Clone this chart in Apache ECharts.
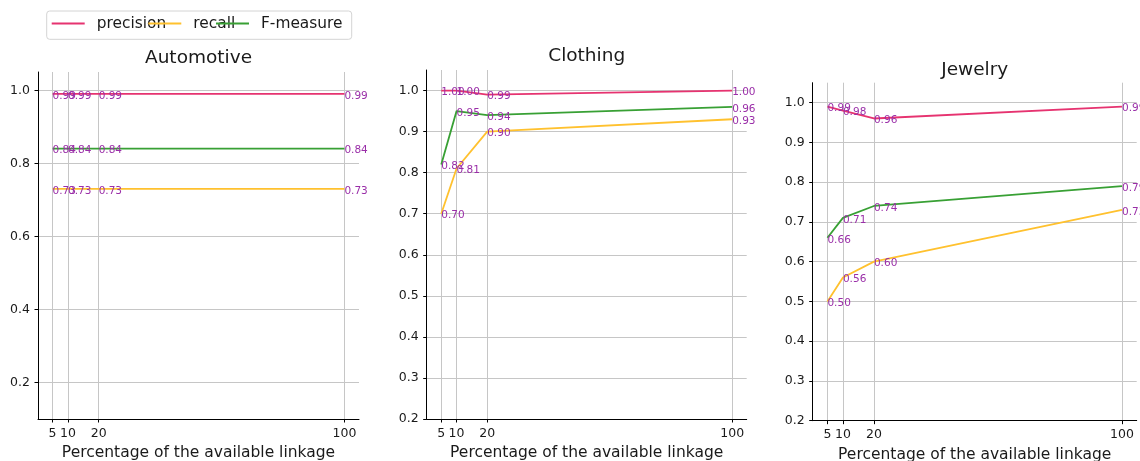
<!DOCTYPE html>
<html>
<head>
<meta charset="utf-8">
<script src="https://cdn.jsdelivr.net/npm/echarts@6/dist/echarts.min.js"></script>
<style>
  html, body { margin: 0; padding: 0; background: #ffffff; }
  #chart { width: 1140px; height: 461px; }
</style>
</head>
<body>
<div id="chart"></div>
<script>
// Share of the available linkage used (x axis)
const linkage = [5, 10, 20, 100];

const panelTitles = ['Automotive', 'Clothing', 'Jewelry'];
const metricNames = ['precision', 'recall', 'F-measure'];

// Scores per category
const automotivePrecision = [0.99, 0.99, 0.99, 0.99];
const automotiveRecall    = [0.73, 0.73, 0.73, 0.73];
const automotiveF         = [0.84, 0.84, 0.84, 0.84];

const clothingPrecision = [1.00, 1.00, 0.99, 1.00];
const clothingRecall    = [0.70, 0.81, 0.90, 0.93];
const clothingF         = [0.82, 0.95, 0.94, 0.96];

const jewelryPrecision = [0.99, 0.98, 0.96, 0.99];
const jewelryRecall    = [0.50, 0.56, 0.60, 0.73];
const jewelryF         = [0.66, 0.71, 0.74, 0.79];

// Y tick labels
const yTicksCoarse = [0.2, 0.4, 0.6, 0.8, 1.0];
const yTicksFine   = [0.2, 0.3, 0.4, 0.5, 0.6, 0.7, 0.8, 0.9, 1.0];

const FONT = 'DejaVu Sans';
const TEXT = '#1a1a1a';
const LABEL_COLOR = '#9a2ea8';
const GRID_COLOR = '#c6c6c6';
const metricColors = ['#e63370', '#ffc12e', '#38a034'];

// Panel geometry (pixels) and y ranges
const panels = [
  { title: panelTitles[0], left: 38,    top: 72,   width: 321, height: 347, yMin: 0.1, yMax: 1.05, yTicks: yTicksCoarse,
    titleY: 58, nameGap: 25.5, values: [automotivePrecision, automotiveRecall, automotiveF] },
  { title: panelTitles[1], left: 426.7, top: 70,   width: 320, height: 349, yMin: 0.2, yMax: 1.05, yTicks: yTicksFine,
    titleY: 55.7, nameGap: 25.5, values: [clothingPrecision, clothingRecall, clothingF] },
  { title: panelTitles[2], left: 812.7, top: 82.7, width: 324, height: 338, yMin: 0.2, yMax: 1.05, yTicks: yTicksFine,
    titleY: 70.3, nameGap: 23.8, values: [jewelryPrecision, jewelryRecall, jewelryF] }
];

const grid = [], xAxis = [], yAxis = [], series = [], graphic = [];

panels.forEach((p, k) => {
  grid.push({ left: p.left, top: p.top, width: p.width, height: p.height,
              containLabel: false, outerBoundsMode: 'none' });

  xAxis.push({
    type: 'value', gridIndex: k, min: 0.25, max: 104.75,
    name: 'Percentage of the available linkage',
    nameLocation: 'middle', nameGap: p.nameGap,
    nameTextStyle: { fontFamily: FONT, fontSize: 15.5, color: TEXT },
    axisLine: { show: true, onZero: false, lineStyle: { color: '#000', width: 1 } },
    axisTick: { show: true, length: 3.5, customValues: linkage, lineStyle: { color: '#000', width: 1 } },
    axisLabel: { customValues: linkage, margin: 8, fontFamily: FONT, fontSize: 12.5, color: TEXT },
    splitLine: { show: true, lineStyle: { color: GRID_COLOR, width: 1 } }
  });

  yAxis.push({
    type: 'value', gridIndex: k, min: p.yMin, max: p.yMax,
    axisLine: { show: true, onZero: false, lineStyle: { color: '#000', width: 1 } },
    axisTick: { show: true, length: 3.5, customValues: p.yTicks, lineStyle: { color: '#000', width: 1 } },
    axisLabel: { customValues: p.yTicks, margin: 8, fontFamily: FONT, fontSize: 12.5, color: TEXT,
                 formatter: v => v.toFixed(1) },
    splitLine: { show: true, lineStyle: { color: GRID_COLOR, width: 1 } }
  });

  p.values.forEach((vals, m) => {
    series.push({
      type: 'line', name: metricNames[m], xAxisIndex: k, yAxisIndex: k,
      data: linkage.map((x, i) => [x, vals[i]]),
      color: metricColors[m],
      symbol: 'circle', symbolSize: 0, showSymbol: true,
      lineStyle: { color: metricColors[m], width: 1.8 },
      itemStyle: { color: metricColors[m] },
      label: {
        show: true, position: 'right', distance: 0, offset: [0, 2],
        fontFamily: FONT, fontSize: 10.5, color: LABEL_COLOR,
        formatter: d => d.value[1].toFixed(2)
      },
      emphasis: { disabled: true },
      z: 3
    });
  });

  graphic.push({
    type: 'text', x: p.left + p.width / 2, y: p.titleY,
    style: { text: p.title, font: '18.5px "DejaVu Sans"', fill: TEXT,
             textAlign: 'center', textVerticalAlign: 'middle', align: 'center', verticalAlign: 'middle' }
  });
});

// Legend frame
graphic.unshift({
  type: 'rect', shape: { x: 46.7, y: 11, width: 305, height: 28.3, r: 3 },
  style: { fill: 'rgba(255,255,255,0.8)', stroke: '#d4d4d4', lineWidth: 1 }, z: 10
});

// One legend per entry so each sits at its own spot
const legendLefts = [51.7, 148.3, 216];
const legend = metricNames.map((name, m) => ({
  data: [name], left: legendLefts[m], top: 16, padding: 0,
  icon: 'rect', itemWidth: 33, itemHeight: 2, selectedMode: false, z: 11,
  textStyle: { fontFamily: FONT, fontSize: 15.4, color: TEXT, padding: [0, 0, 0, 7] }
}));

const chart = echarts.init(document.getElementById('chart'), null, { renderer: 'canvas' });
chart.setOption({
  animation: false,
  backgroundColor: '#ffffff',
  grid, xAxis, yAxis, series, legend, graphic
});
</script>
</body>
</html>
